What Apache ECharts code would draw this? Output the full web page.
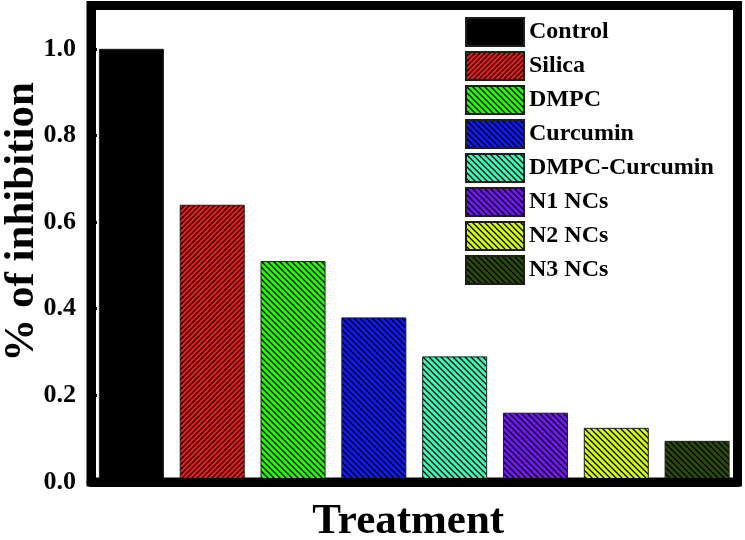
<!DOCTYPE html>
<html><head><meta charset="utf-8">
<script src="https://cdn.jsdelivr.net/npm/echarts@6/dist/echarts.min.js"></script>
<style>html,body{margin:0;padding:0;background:#fff}#c{width:745px;height:540px}</style>
</head><body><div id="c"></div>
<script>
const categories = ['Control','Silica','DMPC','Curcumin','DMPC-Curcumin','N1 NCs','N2 NCs','N3 NCs'];
const values = [1.0, 0.64, 0.51, 0.38, 0.29, 0.16, 0.125, 0.095];
const yTicks = ['0.0','0.2','0.4','0.6','0.8','1.0'];
const yTitle = '% of inhibition';
const xTitle = 'Treatment';
const barColors = ['#000000','#ff1414','#1eff00','#0a1aff','#33ffb8','#7414ff','#d4ff00','#2c4a04'];
const hatchDir = ['none','/','\\','\\','\\','\\','\\','\\'];
const hatchStep = [0,5,6,6,6,6,6,6];

function hatch(color, dir, step) {
  if (dir === 'none') return color;
  const c = document.createElement('canvas');
  c.width = step; c.height = step;
  const g = c.getContext('2d');
  g.fillStyle = color; g.fillRect(0, 0, step, step);
  g.strokeStyle = '#000'; g.lineWidth = 1.3;
  g.beginPath();
  if (dir === '/') {
    g.moveTo(-1, step + 1); g.lineTo(step + 1, -1);
    g.moveTo(-1, 1); g.lineTo(1, -1);
    g.moveTo(step - 1, step + 1); g.lineTo(step + 1, step - 1);
  } else {
    g.moveTo(-1, -1); g.lineTo(step + 1, step + 1);
    g.moveTo(step - 1, -1); g.lineTo(step + 1, 1);
    g.moveTo(-1, step - 1); g.lineTo(1, step + 1);
  }
  g.stroke();
  return { image: c, repeat: 'repeat' };
}

const serif = "'Liberation Serif', 'Times New Roman', serif";
const chart = echarts.init(document.getElementById('c'), null, { renderer: 'canvas' });
chart.setOption({
  animation: false,
  backgroundColor: '#fff',
  grid: { left: 91, right: 7.5, top: 5.5, bottom: 58, show: true, borderColor: '#000', borderWidth: 9,
          backgroundColor: 'transparent', containLabel: false, outerBoundsMode: 'none' },
  legend: {
    data: categories, orient: 'vertical', left: 460, top: 12,
    itemWidth: 58, itemHeight: 28, itemGap: 4, icon: 'rect',
    textStyle: { fontFamily: serif, fontWeight: 'bold', fontSize: 24, color: '#000' }
  },
  graphic: [{
    type: 'text', x: 22, y: 222, rotation: Math.PI / 2, z: 20,
    style: { text: yTitle, fontFamily: serif, fontWeight: 'bold', fontSize: 43, fill: '#000',
             align: 'center', verticalAlign: 'middle' }
  }],
  xAxis: {
    type: 'category', data: categories, z: 10,
    axisLine: { show: true, lineStyle: { color: '#000', width: 9 } },
    axisTick: { show: false }, axisLabel: { show: false },
    name: xTitle, nameLocation: 'middle', nameGap: 18,
    nameTextStyle: { fontFamily: serif, fontWeight: 'bold', fontSize: 43, color: '#000', padding: [0, 12, 0, 0] }
  },
  yAxis: {
    type: 'value', min: 0, max: 1.1, interval: 0.2, z: 10,
    axisLine: { show: true, lineStyle: { color: '#000', width: 9 } },
    axisTick: { show: true, inside: true, length: 6, lineStyle: { color: '#000', width: 3 } },
    splitLine: { show: false },
    axisLabel: {
      showMaxLabel: false, margin: 15,
      fontFamily: serif, fontWeight: 'bold', fontSize: 26, color: '#000',
      formatter: v => { const i = Math.round(v / 0.2); return Math.abs(v - i * 0.2) < 1e-6 && yTicks[i] ? yTicks[i] : ''; }
    }
  },
  series: categories.map((name, i) => ({
    name, type: 'bar', barWidth: 65, barGap: '-100%',
    data: categories.map((_, j) => (j === i ? values[i] : '-')),
    itemStyle: { color: hatch(barColors[i], hatchDir[i], hatchStep[i]), borderColor: '#1e1e1e', borderWidth: 1 }
  }))
});
</script></body></html>
